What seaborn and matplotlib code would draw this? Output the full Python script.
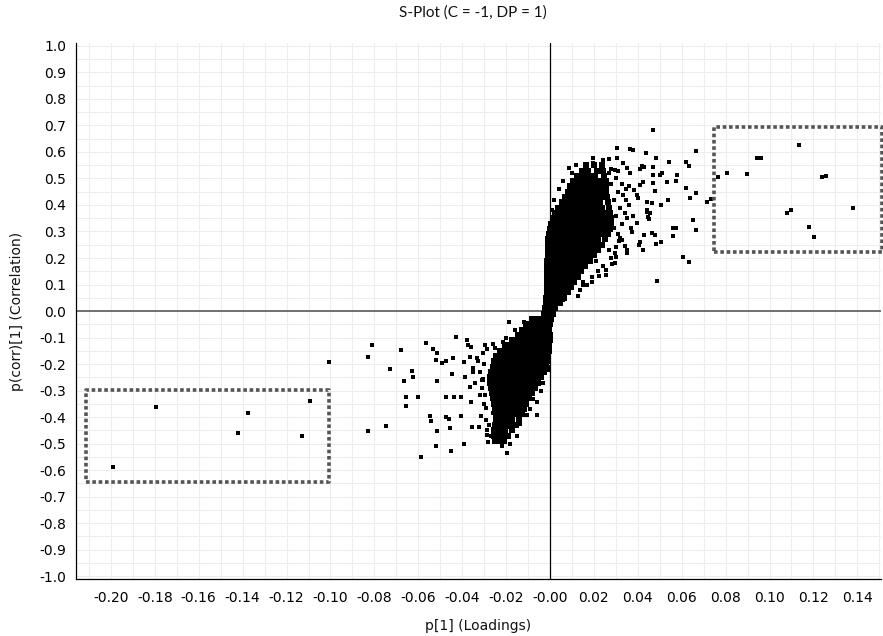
import matplotlib
matplotlib.use("Agg")
import matplotlib.pyplot as plt
from matplotlib.ticker import FixedLocator
import seaborn as sns
import pandas as pd

# ---------------- data ----------------
title = "S-Plot (C = -1, DP = 1)"
x_label = "p[1] (Loadings)"
y_label = "p(corr)[1] (Correlation)"

x_ticks = [-0.20, -0.18, -0.16, -0.14, -0.12, -0.10, -0.08, -0.06, -0.04, -0.02,
           0.00, 0.02, 0.04, 0.06, 0.08, 0.10, 0.12, 0.14]
x_tick_labels = ["-0.20", "-0.18", "-0.16", "-0.14", "-0.12", "-0.10", "-0.08", "-0.06",
                 "-0.04", "-0.02", "-0.00", "0.02", "0.04", "0.06", "0.08", "0.10",
                 "0.12", "0.14"]
y_ticks = [1.0, 0.9, 0.8, 0.7, 0.6, 0.5, 0.4, 0.3, 0.2, 0.1, 0.0,
           -0.1, -0.2, -0.3, -0.4, -0.5, -0.6, -0.7, -0.8, -0.9, -1.0]
y_tick_labels = ["1.0", "0.9", "0.8", "0.7", "0.6", "0.5", "0.4", "0.3", "0.2", "0.1", "0.0",
                 "-0.1", "-0.2", "-0.3", "-0.4", "-0.5", "-0.6", "-0.7", "-0.8", "-0.9", "-1.0"]

# dense upper core (positive loadings) : one row of points per correlation level
upper_core_y = [0.01, 0.03, 0.05, 0.07, 0.09, 0.11, 0.13, 0.15, 0.17, 0.19, 0.21, 0.23,
                0.25, 0.27, 0.29, 0.31, 0.33, 0.35, 0.37, 0.39, 0.41, 0.43, 0.45, 0.47,
                0.49, 0.51, 0.53, 0.55]
upper_core_x = [
    [-0.0022, 0.0000, 0.0024],
    [-0.0018, 0.0005, 0.0030, 0.0046],
    [-0.0018, 0.0006, 0.0030, 0.0055, 0.0064],
    [-0.0014, 0.0010, 0.0035, 0.0060, 0.0082],
    [-0.0014, 0.0010, 0.0035, 0.0060, 0.0085, 0.0096],
    [-0.0014, 0.0010, 0.0035, 0.0060, 0.0085, 0.0110],
    [-0.0014, 0.0010, 0.0035, 0.0060, 0.0085, 0.0108, 0.0128],
    [-0.0014, 0.0012, 0.0037, 0.0062, 0.0087, 0.0112, 0.0141],
    [-0.0014, 0.0012, 0.0037, 0.0062, 0.0087, 0.0112, 0.0137, 0.0160],
    [-0.0014, 0.0012, 0.0037, 0.0062, 0.0087, 0.0112, 0.0137, 0.0160, 0.0180],
    [-0.0010, 0.0015, 0.0040, 0.0065, 0.0090, 0.0115, 0.0140, 0.0165, 0.0185, 0.0200],
    [-0.0010, 0.0015, 0.0040, 0.0065, 0.0090, 0.0115, 0.0140, 0.0165, 0.0190, 0.0219],
    [-0.0008, 0.0017, 0.0042, 0.0067, 0.0092, 0.0117, 0.0142, 0.0167, 0.0192, 0.0215, 0.0237],
    [-0.0008, 0.0017, 0.0042, 0.0067, 0.0092, 0.0117, 0.0142, 0.0167, 0.0192, 0.0217, 0.0250],
    [-0.0005, 0.0020, 0.0045, 0.0070, 0.0095, 0.0120, 0.0145, 0.0170, 0.0195, 0.0220, 0.0245, 0.0264],
    [0.0000, 0.0025, 0.0050, 0.0075, 0.0100, 0.0125, 0.0150, 0.0175, 0.0200, 0.0225, 0.0250, 0.0273],
    [0.0005, 0.0030, 0.0055, 0.0080, 0.0105, 0.0130, 0.0155, 0.0180, 0.0205, 0.0230, 0.0255, 0.0278],
    [0.0014, 0.0040, 0.0065, 0.0090, 0.0115, 0.0140, 0.0165, 0.0190, 0.0215, 0.0240, 0.0265, 0.0278],
    [0.0023, 0.0048, 0.0073, 0.0098, 0.0123, 0.0148, 0.0173, 0.0198, 0.0223, 0.0248, 0.0275],
    [0.0036, 0.0060, 0.0085, 0.0110, 0.0135, 0.0160, 0.0185, 0.0210, 0.0235, 0.0269],
    [0.0055, 0.0080, 0.0105, 0.0130, 0.0155, 0.0180, 0.0205, 0.0230, 0.0264],
    [0.0068, 0.0093, 0.0118, 0.0143, 0.0168, 0.0193, 0.0218, 0.0243, 0.0260],
    [0.0082, 0.0107, 0.0132, 0.0157, 0.0182, 0.0207, 0.0232, 0.0255],
    [0.0091, 0.0116, 0.0141, 0.0166, 0.0191, 0.0216, 0.0241, 0.0255],
    [0.0105, 0.0130, 0.0155, 0.0180, 0.0205, 0.0230, 0.0255],
    [0.0123, 0.0150, 0.0178, 0.0205, 0.0246],
    [0.0146, 0.0175, 0.0215, 0.0240],
    [0.0164, 0.0200, 0.0237],
]

# dense lower core (negative loadings)
lower_core_y = [-0.01, -0.03, -0.05, -0.07, -0.09, -0.11, -0.13, -0.15, -0.17, -0.19,
                -0.21, -0.23, -0.25, -0.27, -0.29, -0.31, -0.33, -0.35, -0.37, -0.39,
                -0.41, -0.43, -0.45, -0.47, -0.49]
lower_core_x = [
    [-0.0027, -0.0003, 0.0014],
    [-0.0082, -0.0057, -0.0032, -0.0007, 0.0005],
    [-0.0110, -0.0085, -0.0060, -0.0035, -0.0010, 0.0000],
    [-0.0128, -0.0103, -0.0078, -0.0053, -0.0028, -0.0003],
    [-0.0146, -0.0121, -0.0096, -0.0071, -0.0046, -0.0021, 0.0000],
    [-0.0173, -0.0148, -0.0123, -0.0098, -0.0073, -0.0048, -0.0023, 0.0000],
    [-0.0205, -0.0180, -0.0155, -0.0130, -0.0105, -0.0080, -0.0055, -0.0030, -0.0005],
    [-0.0228, -0.0203, -0.0178, -0.0153, -0.0128, -0.0103, -0.0078, -0.0053, -0.0028, -0.0005],
    [-0.0246, -0.0221, -0.0196, -0.0171, -0.0146, -0.0121, -0.0096, -0.0071, -0.0046, -0.0021, -0.0010],
    [-0.0255, -0.0230, -0.0205, -0.0180, -0.0155, -0.0130, -0.0105, -0.0080, -0.0055, -0.0030, -0.0014],
    [-0.0260, -0.0235, -0.0210, -0.0185, -0.0160, -0.0135, -0.0110, -0.0085, -0.0060, -0.0035, -0.0018],
    [-0.0270, -0.0245, -0.0220, -0.0195, -0.0170, -0.0145, -0.0120, -0.0095, -0.0070, -0.0045, -0.0027],
    [-0.0273, -0.0248, -0.0223, -0.0198, -0.0173, -0.0148, -0.0123, -0.0098, -0.0073, -0.0048, -0.0040],
    [-0.0273, -0.0248, -0.0223, -0.0198, -0.0173, -0.0148, -0.0123, -0.0098, -0.0073, -0.0055],
    [-0.0270, -0.0245, -0.0220, -0.0195, -0.0170, -0.0145, -0.0120, -0.0095, -0.0068],
    [-0.0264, -0.0239, -0.0214, -0.0189, -0.0164, -0.0139, -0.0114, -0.0089, -0.0082],
    [-0.0260, -0.0235, -0.0210, -0.0185, -0.0160, -0.0135, -0.0110, -0.0096],
    [-0.0255, -0.0230, -0.0205, -0.0180, -0.0155, -0.0130, -0.0110],
    [-0.0250, -0.0225, -0.0200, -0.0175, -0.0150, -0.0125, -0.0118],
    [-0.0246, -0.0221, -0.0196, -0.0171, -0.0146, -0.0128],
    [-0.0246, -0.0221, -0.0196, -0.0171, -0.0141],
    [-0.0250, -0.0225, -0.0200, -0.0175, -0.0155],
    [-0.0255, -0.0230, -0.0205, -0.0173],
    [-0.0255, -0.0230, -0.0205, -0.0190],
    [-0.0250, -0.0228, -0.0210],
]

# scattered variables around the upper core
upper_out_x = [0.0471, 0.0304, 0.0365, 0.0380, 0.0436, 0.0483, 0.0544, 0.0620, 0.0635, 0.0664,
               0.0197, 0.0194, 0.0243, 0.0270, 0.0307, 0.0088, 0.0235, 0.0334, 0.0352, 0.0278,
               0.0296, 0.0311, 0.0410, 0.0428, 0.0470, 0.0364, 0.0470, 0.0509, 0.0577, 0.0574,
               0.0532, 0.0422, 0.0410, 0.0470, 0.0478, 0.0620, 0.0664, 0.0638, 0.0361, 0.0384,
               0.0346, 0.0395, 0.0402, 0.0440, 0.0463, 0.0504, 0.0539, 0.0717, 0.0733, 0.0334,
               0.0346, 0.0443, 0.0456, 0.0440, 0.0653, 0.0664, 0.0562, 0.0574, 0.0559, 0.0463,
               0.0478, 0.0428, 0.0410, 0.0407, 0.0425, 0.0483, 0.0506, 0.0604, 0.0635, 0.0489,
               0.0398, 0.0368, 0.0372, 0.0319, 0.0327, 0.0352, 0.0352, 0.0342, 0.0296, 0.0301,
               0.0296, 0.0281, 0.0255, 0.0255, 0.0225, 0.0190, 0.0152, 0.0152, 0.0137, 0.0129,
               0.0106, 0.0099, 0.0061, 0.0035, 0.0080, 0.0088, 0.0448, 0.0453, 0.0420, 0.0500,
               # halo right along the core edge
               0.0280, 0.0300, 0.0310, 0.0330, 0.0300, 0.0320, 0.0290, 0.0310, 0.0280, 0.0300,
               0.0270, 0.0330, 0.0360, 0.0340, 0.0350, 0.0380, 0.0240, 0.0220, 0.0190, 0.0170,
               0.0210, 0.0270, 0.0120, 0.0100, 0.0060, 0.0040, 0.0020, 0.0010, 0.0315, 0.0290]
upper_out_y = [0.683, 0.615, 0.612, 0.607, 0.595, 0.578, 0.561, 0.561, 0.548, 0.604,
               0.576, 0.557, 0.570, 0.572, 0.578, 0.541, 0.545, 0.557, 0.541, 0.535,
               0.532, 0.529, 0.535, 0.545, 0.545, 0.520, 0.513, 0.520, 0.513, 0.492,
               0.485, 0.488, 0.475, 0.482, 0.454, 0.465, 0.446, 0.425, 0.472, 0.457,
               0.459, 0.438, 0.425, 0.412, 0.406, 0.400, 0.419, 0.412, 0.421, 0.438,
               0.419, 0.381, 0.369, 0.375, 0.343, 0.306, 0.314, 0.312, 0.283, 0.293,
               0.287, 0.287, 0.262, 0.249, 0.230, 0.252, 0.262, 0.203, 0.186, 0.114,
               0.333, 0.312, 0.299, 0.274, 0.268, 0.230, 0.220, 0.245, 0.218, 0.205,
               0.180, 0.177, 0.155, 0.136, 0.133, 0.111, 0.111, 0.098, 0.079, 0.057,
               0.117, 0.107, 0.042, 0.394, 0.425, 0.450, 0.356, 0.347, 0.547, 0.513,
               0.200, 0.240, 0.290, 0.330, 0.360, 0.390, 0.420, 0.450, 0.480, 0.500,
               0.520, 0.480, 0.400, 0.370, 0.350, 0.360, 0.170, 0.150, 0.130, 0.100,
               0.190, 0.230, 0.550, 0.520, 0.490, 0.460, 0.420, 0.380, 0.265, 0.315]

# variables inside the right (positive) selection box
right_sel_x = [0.1136, 0.0942, 0.0960, 0.0805, 0.0896, 0.0767, 0.1238, 0.1257, 0.1379,
               0.1078, 0.1098, 0.1181, 0.1204]
right_sel_y = [0.625, 0.577, 0.579, 0.520, 0.518, 0.505, 0.505, 0.508, 0.390,
               0.369, 0.381, 0.318, 0.280]

# variables inside the left (negative) selection box
left_sel_x = [-0.1992, -0.1795, -0.1423, -0.1374, -0.1128, -0.1093]
left_sel_y = [-0.588, -0.364, -0.462, -0.386, -0.473, -0.338]

# scattered variables around the lower core
lower_out_x = [-0.1005, -0.0810, -0.0828, -0.0828, -0.0747, -0.0729, -0.0679, -0.0627, -0.0623,
               -0.0664, -0.0657, -0.0655, -0.0603, -0.0589, -0.0565, -0.0534, -0.0513, -0.0521,
               -0.0490, -0.0474, -0.0513, -0.0547, -0.0542, -0.0513, -0.0521, -0.0475, -0.0474,
               -0.0460, -0.0456, -0.0451, -0.0445, -0.0440, -0.0427, -0.0439, -0.0404, -0.0404,
               -0.0390, -0.0393, -0.0389, -0.0380, -0.0372, -0.0361, -0.0364, -0.0358, -0.0355,
               -0.0322, -0.0364, -0.0334, -0.0350, -0.0352, -0.0313, -0.0307, -0.0318, -0.0292,
               -0.0286, -0.0286, -0.0281, -0.0251, -0.0220, -0.0197, -0.0185, -0.0296, -0.0304,
               -0.0258, -0.0061, -0.0076, -0.0061, -0.0137, -0.0038, -0.0103, -0.0182, -0.0008,
               -0.0003, -0.0296, -0.0260, -0.0215, -0.0288, -0.0307, -0.0311, -0.0046,
               # halo along the lower core edge
               -0.0300, -0.0320, -0.0310, -0.0300, -0.0290, -0.0280, -0.0270, -0.0220, -0.0180,
               -0.0150, -0.0090, -0.0040, -0.0030, -0.0080, -0.0250, -0.0200, -0.0160, -0.0120,
               -0.0330, -0.0340]
lower_out_y = [-0.191, -0.128, -0.172, -0.453, -0.433, -0.220, -0.147, -0.225, -0.248,
               -0.263, -0.323, -0.358, -0.323, -0.550, -0.120, -0.145, -0.157, -0.185,
               -0.197, -0.189, -0.264, -0.395, -0.414, -0.453, -0.509, -0.323, -0.399,
               -0.408, -0.443, -0.528, -0.238, -0.179, -0.099, -0.323, -0.323, -0.395,
               -0.503, -0.194, -0.248, -0.109, -0.130, -0.137, -0.286, -0.345, -0.439,
               -0.439, -0.172, -0.176, -0.216, -0.229, -0.395, -0.260, -0.317, -0.367,
               -0.449, -0.468, -0.493, -0.480, -0.497, -0.535, -0.042, -0.317, -0.258,
               -0.386, -0.392, -0.333, -0.342, -0.426, -0.242, -0.392, -0.437, -0.223,
               -0.210, -0.128, -0.125, -0.118, -0.145, -0.160, -0.260, -0.245,
               -0.200, -0.230, -0.290, -0.350, -0.410, -0.430, -0.470, -0.510, -0.500,
               -0.470, -0.370, -0.300, -0.270, -0.310, -0.140, -0.100, -0.070, -0.040,
               -0.190, -0.270]

# selection boxes: (x_min, x_max, y_min, y_max)
left_box = (-0.2112, -0.1005, -0.645, -0.298)
right_box = (0.0745, 0.1512, 0.224, 0.695)

# ---------------- build tables ----------------
core_x, core_y = [], []
for yv, xs in zip(upper_core_y, upper_core_x):
    core_x += xs
    core_y += [yv] * len(xs)
for yv, xs in zip(lower_core_y, lower_core_x):
    core_x += xs
    core_y += [yv] * len(xs)
core = pd.DataFrame({"p1": core_x, "pcorr": core_y})
scatter = pd.DataFrame({
    "p1": upper_out_x + right_sel_x + left_sel_x + lower_out_x,
    "pcorr": upper_out_y + right_sel_y + left_sel_y + lower_out_y,
})

# ---------------- drawing ----------------
sns.set_style("white")
plt.rcParams["font.family"] = ["DejaVu Sans"]

fig = plt.figure(figsize=(8.83, 6.36), dpi=100)
ax = fig.add_axes([0.0861, 0.0896, 0.9117, 0.8428])

ax.set_xlim(-0.2159, 0.1508)
ax.set_ylim(-1.0113, 1.0113)

# grid (every 0.01 in x, every 0.05 in y)
ax.xaxis.set_minor_locator(FixedLocator([v / 100 for v in range(-21, 16)]))
ax.yaxis.set_minor_locator(FixedLocator([v / 20 for v in range(-20, 21)]))
ax.grid(True, which="minor", color="#ededed", linewidth=0.8, zorder=0)
ax.grid(True, which="major", color="#ededed", linewidth=0.8, zorder=0)
ax.set_axisbelow(True)

ax.axhline(0, color="#707070", linewidth=1.4, zorder=1)
ax.axvline(0, color="black", linewidth=0.9, zorder=1)

sns.scatterplot(data=core, x="p1", y="pcorr", ax=ax, marker="s", s=17,
                color="black", linewidth=0, zorder=3, legend=False)
sns.scatterplot(data=scatter, x="p1", y="pcorr", ax=ax, marker="s", s=12,
                color="black", linewidth=0, zorder=3, legend=False)

for (x0, x1, y0, y1) in (left_box, right_box):
    ax.plot([x0, x1, x1, x0, x0], [y0, y0, y1, y1, y0], color="#555555",
            linewidth=2.6, linestyle=(0, (1.0, 0.75)), dash_capstyle="butt",
            solid_joinstyle="miter", clip_on=False, zorder=4)

ax.set_xticks(x_ticks)
ax.set_xticklabels(x_tick_labels)
ax.set_yticks(y_ticks)
ax.set_yticklabels(y_tick_labels)
ax.tick_params(axis="both", which="both", direction="out", color="black",
               width=0.8, labelsize=10, colors="black")
ax.tick_params(axis="both", which="major", length=3.5)
ax.tick_params(axis="both", which="minor", length=3.5)
ax.tick_params(axis="x", pad=5)
ax.tick_params(axis="y", pad=3.5)

for side in ("top", "right"):
    ax.spines[side].set_visible(False)
for side in ("left", "bottom"):
    ax.spines[side].set_color("black")
    ax.spines[side].set_linewidth(0.9)

ax.set_xlabel(x_label, fontsize=10, color="#111111", labelpad=10)
ax.set_ylabel(y_label, fontsize=10, color="#111111", labelpad=11)
fig.text(0.536, 0.981, title, ha="center", va="center", fontsize=11,
         family=["Lato", "DejaVu Sans"], color="#111111")

fig.savefig("out.png", dpi=100)
